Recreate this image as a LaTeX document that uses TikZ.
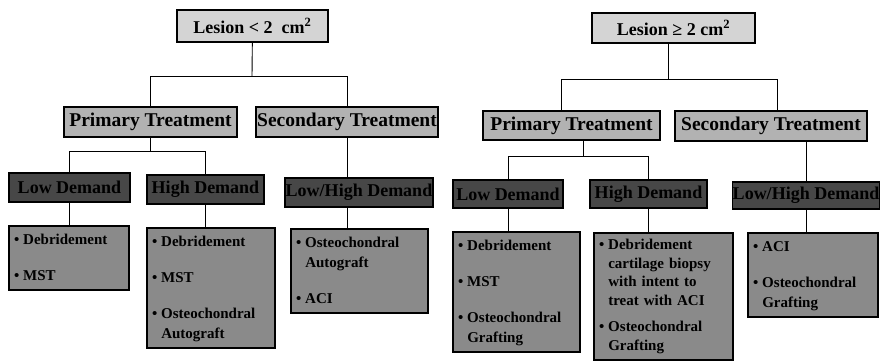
\documentclass[tikz,border=0pt]{standalone}
\usepackage{fontspec}
\setmainfont{Liberation Serif}
\usepackage{tikz}
\usetikzlibrary{positioning}
\definecolor{rootgray}{HTML}{D4D4D4}
\definecolor{treatgray}{HTML}{B2B2B2}
\definecolor{demandgray}{HTML}{474747}
\definecolor{optgray}{HTML}{8A8A8A}

\begin{document}
\begin{tikzpicture}[x=1pt, y=1pt, font=\fontsize{18}{20}\selectfont\bfseries,
  lesion/.style={draw, line width=1.2pt, fill=rootgray, inner sep=0pt},
  treat/.style={draw, line width=1.2pt, fill=treatgray, inner sep=0pt, font=\fontsize{19.5}{21}\selectfont\bfseries},
  demand/.style={draw, line width=1.2pt, fill=demandgray, inner sep=0pt, font=\fontsize{18}{20}\selectfont\bfseries},
  opts/.style={draw, line width=1.2pt, fill=optgray, inner xsep=5pt, inner ysep=0pt, align=left, font=\fontsize{15}{20}\selectfont\bfseries},
  link/.style={line width=0.9pt}]

  \useasboundingbox (0,0) rectangle (881,-362);

  % lesion < 2 cm^2
  \node[lesion, minimum width=151, minimum height=32] (lroot) at (252.5,-26) {Lesion < 2~~cm\textsuperscript{2}};
  \node[treat, minimum width=173, minimum height=30] (lprim) at (150.5,-122) {Primary Treatment};
  \node[treat, minimum width=182, minimum height=30] (lsec) at (347,-122) {Secondary Treatment};
  \node[demand, minimum width=121, minimum height=29] (llow) at (69.5,-187.5) {Low Demand};
  \node[demand, minimum width=117, minimum height=29] (lhigh) at (205.5,-189.5) {High Demand};
  \node[demand, minimum width=148, minimum height=29] (llh) at (359,-192.5) {Low/High Demand};
  \node[opts, text width=110, minimum height=64] (lc1) at (69,-258)
    {\begin{tabular}{@{}l@{\hspace{4pt}}l@{}}\textbullet & Debridement\\[16pt] \textbullet & MST\end{tabular}};
  \node[opts, text width=118, minimum height=120] (lc2) at (211,-288)
    {\begin{tabular}{@{}l@{\hspace{4pt}}l@{}}\textbullet & Debridement\\[16pt] \textbullet & MST\\[16pt] \textbullet & Osteochondral\\ & Autograft\end{tabular}};
  \node[opts, text width=127, minimum height=84] (lc3) at (359.5,-271)
    {\begin{tabular}{@{}l@{\hspace{4pt}}l@{}}\textbullet & Osteochondral\\ & Autograft\\[16pt] \textbullet & ACI\end{tabular}};

  \coordinate (lj) at (252,-76);
  \coordinate (lpj) at (150.5,-151);
  \draw[link] (lroot) -- (lj);
  \draw[link] (lj) -| (lprim);
  \draw[link] (lj) -| (lsec);
  \draw[link] (lprim) -- (lpj);
  \draw[link] (lpj) -| (llow);
  \draw[link] (lpj) -| (lhigh);
  \draw[link] (lsec) -- (lsec |- llh.north);
  \draw[link] (llow) -- (llow |- lc1.north);
  \draw[link] (lhigh) -- (lhigh |- lc2.north);
  \draw[link] (lsec |- llh.south) -- (lsec |- lc3.north);

  % lesion >= 2 cm^2
  \node[lesion, minimum width=163, minimum height=30] (rroot) at (673.5,-28) {Lesion ≥ 2 cm\textsuperscript{2}};
  \node[treat, minimum width=177, minimum height=29] (rprim) at (571.5,-125.5) {Primary Treatment};
  \node[treat, minimum width=192, minimum height=30] (rsec) at (771,-126) {Secondary Treatment};
  \node[demand, minimum width=110, minimum height=28] (rlow) at (508,-194) {Low Demand};
  \node[demand, minimum width=117, minimum height=28] (rhigh) at (648.5,-194) {High Demand};
  \node[demand, minimum width=142, minimum height=27] (rlh) at (806,-195.5) {Low/High Demand};
  \node[opts, text width=117, minimum height=120] (rc1) at (516.5,-292)
    {\begin{tabular}{@{}l@{\hspace{4pt}}l@{}}\textbullet & Debridement\\[16pt] \textbullet & MST\\[16pt] \textbullet & Osteochondral\\ & Grafting\end{tabular}};
  \node[opts, text width=129, minimum height=127, font=\fontsize{15}{18.5}\selectfont\bfseries] (rc2) at (663.5,-296.5)
    {\begin{tabular}{@{}l@{\hspace{4pt}}l@{}}\textbullet & Debridement\\ & cartilage biopsy\\ & with intent to\\ & treat with ACI\\[8pt] \textbullet & Osteochondral\\ & Grafting\end{tabular}};
  \node[opts, text width=120, minimum height=84] (rc3) at (813,-275)
    {\begin{tabular}{@{}l@{\hspace{4pt}}l@{}}\textbullet & ACI\\[16pt] \textbullet & Osteochondral\\ & Grafting\end{tabular}};

  \coordinate (rj) at (668,-79);
  \coordinate (rpj) at (583,-156);
  \draw[link] (rroot.south -| rj) -- (rj);
  \draw[link] (rj) -| ([xshift=-10pt]rprim.north);
  \draw[link] (rj) -| ([xshift=6pt]rsec.north);
  \draw[link] (rprim.south -| rpj) -- (rpj);
  \draw[link] (rpj) -| (rlow);
  \draw[link] (rpj) -| (rhigh);
  \draw[link] (rsec.south -| rlh) -- (rlh);
  \draw[link] (rlow) -- (rlow |- rc1.north);
  \draw[link] (rhigh) -- (rhigh |- rc2.north);
  \draw[link] (rlh) -- (rlh |- rc3.north);
\end{tikzpicture}
\end{document}
